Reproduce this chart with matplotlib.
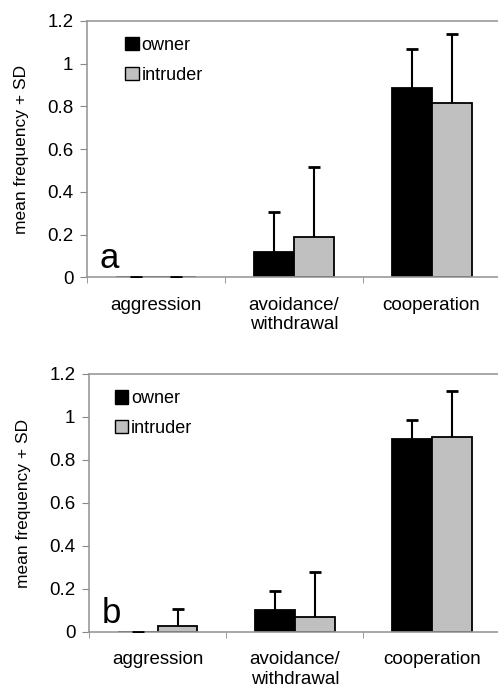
import numpy as np
import matplotlib.pyplot as plt
from matplotlib.patches import Patch

plt.rcParams['font.family'] = ['Liberation Sans', 'DejaVu Sans']

categories = ['aggression', 'avoidance/\nwithdrawal', 'cooperation']
series = ['owner', 'intruder']
colors = ['#000000', '#c0c0c0']

# panel a
a_owner = [0.0, 0.117, 0.886]
a_owner_sd = [0.0, 0.188, 0.183]
a_intruder = [0.0, 0.19, 0.816]
a_intruder_sd = [0.0, 0.326, 0.323]

# panel b
b_owner = [0.0, 0.102, 0.899]
b_owner_sd = [0.0, 0.09, 0.086]
b_intruder = [0.029, 0.07, 0.908]
b_intruder_sd = [0.078, 0.209, 0.214]

fig = plt.figure(figsize=(4.98, 6.88), dpi=100)
ax_a = fig.add_axes([0.175, 0.597, 0.83, 0.3725])
ax_b = fig.add_axes([0.179, 0.0814, 0.826, 0.375])


def draw(ax, owner, owner_sd, intruder, intruder_sd, letter, leg_x):
    x = np.arange(len(categories))
    w = 0.29
    for i, (vals, sd) in enumerate([(owner, owner_sd), (intruder, intruder_sd)]):
        pos = x + (i - 0.5) * w
        vals = np.array(vals)
        sd = np.array(sd)
        ax.bar(pos, vals, w, color=colors[i], edgecolor='black', linewidth=1.3, zorder=2)
        # upward-only error bars, cap on top only
        ax.vlines(pos, vals, vals + sd, color='black', linewidth=1.5, zorder=3)
        ax.plot(pos, vals + sd, ls='none', marker='_', ms=9, mew=2, color='black', zorder=3)
    ax.set_xlim(-0.5, 2.5)
    ax.set_ylim(0, 1.2)
    ax.set_yticks([0, 0.2, 0.4, 0.6, 0.8, 1.0, 1.2])
    ax.set_yticklabels(['0', '0.2', '0.4', '0.6', '0.8', '1', '1.2'])
    ax.set_xticks(x)
    ax.set_xticklabels(categories)
    ax.set_xticks([-0.5, 0.5, 1.5], minor=True)
    ax.tick_params(axis='x', which='major', length=0, labelsize=13.5, pad=14)
    ax.tick_params(axis='x', which='minor', length=4, color='#888888', direction='out')
    ax.tick_params(axis='y', length=5, color='#888888', labelsize=13.5, pad=5)
    for s in ['left', 'bottom', 'top']:
        ax.spines[s].set_color('#999999')
        ax.spines[s].set_linewidth(1.2)
    ax.spines['right'].set_visible(False)
    ax.set_ylabel('mean frequency + SD', fontsize=12.5, labelpad=13)
    ax.text(0.03, 0.035, letter, transform=ax.transAxes, fontsize=25, va='baseline')
    handles = [Patch(facecolor=c, edgecolor='black', linewidth=1.0) for c in colors]
    ax.legend(handles, series, loc='upper left', bbox_to_anchor=(leg_x, 0.965),
              frameon=False, fontsize=13, handlelength=0.75, handleheight=0.75,
              handletextpad=0.15, labelspacing=0.7, borderaxespad=0)


draw(ax_a, a_owner, a_owner_sd, a_intruder, a_intruder_sd, 'a', 0.075)
draw(ax_b, b_owner, b_owner_sd, b_intruder, b_intruder_sd, 'b', 0.045)

fig.savefig('out.png', dpi=100)
